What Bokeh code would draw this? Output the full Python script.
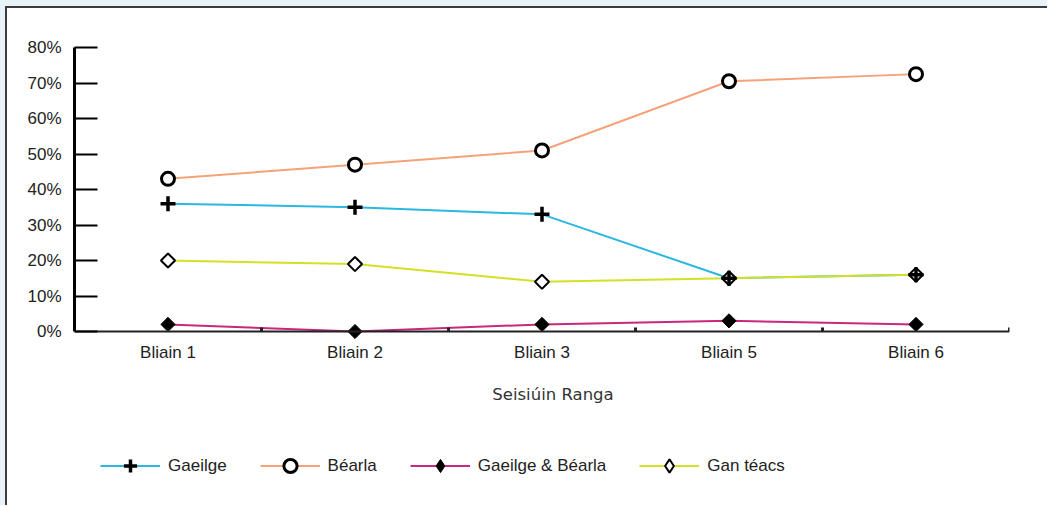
import numpy as np
from bokeh.plotting import figure
from bokeh.models import (Range1d, LinearAxis, FixedTicker, PrintfTickFormatter,
                          Legend, LegendItem, Label, ColumnDataSource)
from bokeh.core.properties import value
from bokeh.embed import file_html
from bokeh.resources import INLINE

# ---- data ----
categories = ["Bliain 1", "Bliain 2", "Bliain 3", "Bliain 5", "Bliain 6"]
gaeilge = [36, 35, 33, 15, 16]
bearla = [43, 47, 51, 70.5, 72.5]
gaeilge_bearla = [2, 0, 2, 3, 2]
gan_teacs = [20, 19, 14, 15, 16]
y_ticks = [0, 10, 20, 30, 40, 50, 60, 70, 80]
x_title = "Seisiúin Ranga"

x = list(np.arange(len(categories)) + 0.5)

# ---- layout (pixels) ----
TOP = 47            # frame top (80 %)
ZERO_PX = 284       # distance from 80 % to 0 %
FRAME_H = 450
Y_MAX = 80
y_min = -(FRAME_H - ZERO_PX) / ZERO_PX * Y_MAX

p = figure(frame_width=935, frame_height=FRAME_H, output_backend="svg", toolbar_location=None,
           x_range=Range1d(0, len(categories)), y_range=Range1d(y_min, Y_MAX),
           x_axis_type=None, y_axis_type=None,
           min_border_left=74, min_border_right=38, min_border_top=TOP,
           min_border_bottom=8)
p.outline_line_color = None
p.background_fill_color = "white"
p.border_fill_alpha = 0
p.styles = {"background-color": "white",
            "box-shadow": "inset 5px 6px 0 0 #e7f3f9, inset 7px 8px 0 0 #3c3c3c"}

TICK_FONT = "Liberation Sans"

# y axis
yaxis = LinearAxis(ticker=FixedTicker(ticks=y_ticks), formatter=PrintfTickFormatter(format="%d%%"),
                   bounds=(0, Y_MAX))
yaxis.axis_line_width = 3
yaxis.axis_line_color = "black"
yaxis.major_tick_in = 23
yaxis.major_tick_out = 0
yaxis.major_tick_line_width = 2
yaxis.major_tick_line_color = "black"
yaxis.minor_tick_line_color = None
yaxis.major_label_standoff = 13
yaxis.major_label_text_font = TICK_FONT
yaxis.major_label_text_font_size = "17px"
yaxis.major_label_text_color = "#222222"
p.add_layout(yaxis, "left")

# x axis (line + category boundary marks), drawn at y = 0
xaxis = LinearAxis(ticker=FixedTicker(ticks=[], minor_ticks=list(range(1, len(categories) + 1))),
                   bounds=(0, len(categories)), fixed_location=0)
xaxis.axis_line_width = 2
xaxis.axis_line_color = "#222222"
xaxis.major_tick_line_color = None
xaxis.major_tick_in = 0
xaxis.major_tick_out = 0
xaxis.major_label_standoff = 0
xaxis.minor_tick_in = 4
xaxis.minor_tick_out = 0
xaxis.minor_tick_line_width = 3
xaxis.minor_tick_line_color = "#222222"
p.add_layout(xaxis, "below")

# category labels under the axis
cat_src = ColumnDataSource(dict(x=x, y=[0] * len(categories), text=categories))
p.text(x="x", y="y", text="text", source=cat_src, y_offset=21,
       text_align="center", text_baseline="middle",
       text_font=value(TICK_FONT), text_font_size="17px", text_color="#222222")

# axis title
p.add_layout(Label(x=len(categories) / 2, y=0, x_offset=11, y_offset=-63, text=x_title,
                   text_align="center", text_baseline="middle",
                   text_font="DejaVu Sans", text_font_size="16.5px", text_color="#333333"))

# lines
c_g, c_b, c_gb, c_gt = "#2bb8e0", "#f5a27a", "#c8287e", "#d5e025"
lg = p.line(x, gaeilge, line_color=c_g, line_width=2)
lb = p.line(x, bearla, line_color=c_b, line_width=2)
lgb = p.line(x, gaeilge_bearla, line_color=c_gb, line_width=2)
lgt = p.line(x, gan_teacs, line_color=c_gt, line_width=2)

# legend-shaped diamond markers (zero size in the chart, used for the legend key)
kgt = p.scatter(x, gan_teacs, marker="diamond", size=0,
                fill_color="white", line_color="black", line_width=2)
kgb = p.scatter(x, gaeilge_bearla, marker="diamond", size=0,
                fill_color="black", line_color="black", line_width=1)

# markers
mgt = p.scatter(x, gan_teacs, marker="square", angle=np.pi / 4, size=10,
                fill_color="white", line_color="black", line_width=2)
mgb = p.scatter(x, gaeilge_bearla, marker="square", angle=np.pi / 4, size=10,
                fill_color="black", line_color="black", line_width=1)
mb = p.scatter(x, bearla, marker="circle", size=13, fill_color="white",
               line_color="black", line_width=3)
mg = p.scatter(x, gaeilge, marker="cross", size=15, line_color="black", line_width=3.5)

legend = Legend(items=[
    LegendItem(label="Gaeilge", renderers=[lg, mg]),
    LegendItem(label="Béarla", renderers=[lb, mb]),
    LegendItem(label="Gaeilge & Béarla", renderers=[lgb, kgb]),
    LegendItem(label="Gan téacs", renderers=[lgt, kgt]),
], orientation="horizontal", location=(26, 15))
legend.margin = 0
legend.padding = 0
legend.spacing = 33
legend.glyph_width = 60
legend.glyph_height = 33
legend.label_standoff = 8
legend.label_text_font = TICK_FONT
legend.label_text_font_size = "17px"
legend.label_text_color = "#222222"
legend.border_line_color = None
legend.background_fill_alpha = 0
p.add_layout(legend, "center")

open("out.html", "w").write(file_html(p, INLINE))
